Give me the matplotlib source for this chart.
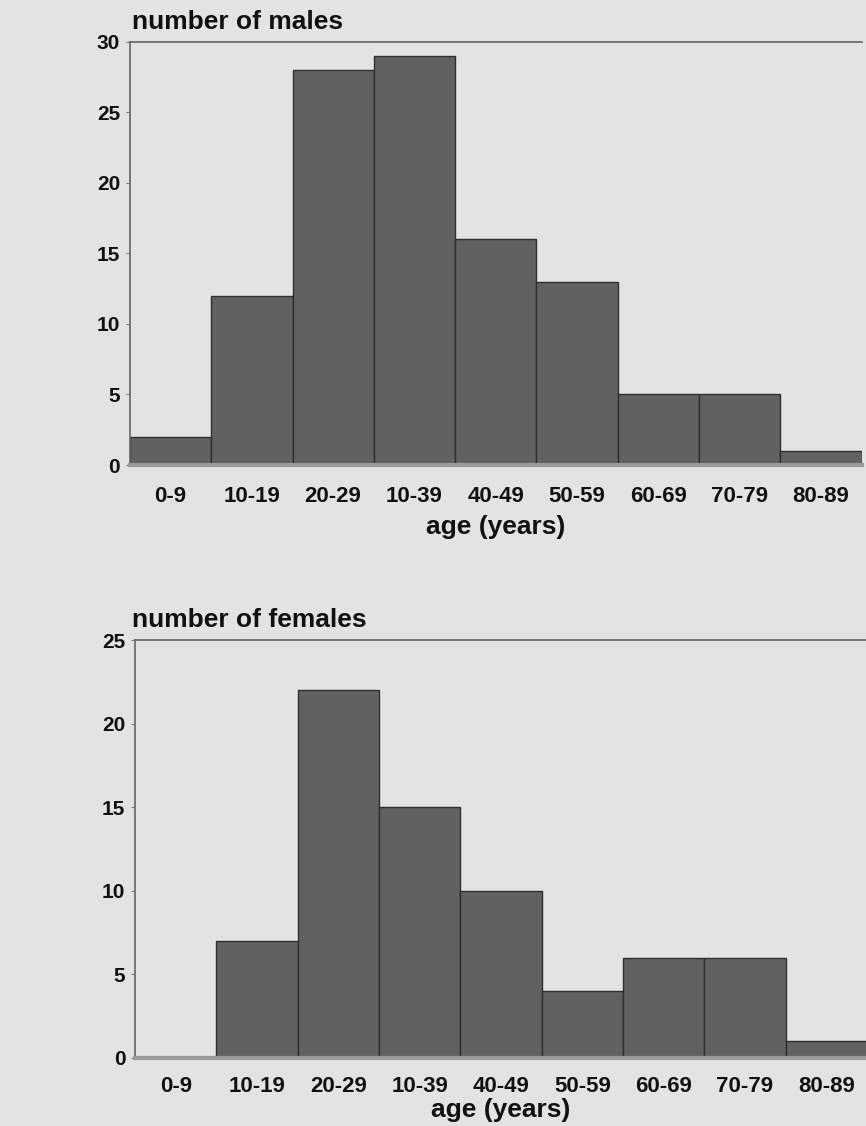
import matplotlib
matplotlib.use("Agg")
import matplotlib.pyplot as plt
import numpy as np

age_groups = ["0-9", "10-19", "20-29", "10-39", "40-49", "50-59", "60-69", "70-79", "80-89"]
males = [2, 12, 28, 29, 16, 13, 5, 5, 1]
females = [0, 7, 22, 15, 10, 4, 6, 6, 1]

plt.rcParams['font.family'] = ['Liberation Sans', 'DejaVu Sans']

bg = "#e3e3e1"
bar_color = "#616161"
edge_color = "#2e2e2e"
text_color = "#111111"

fig = plt.figure(figsize=(8.66, 11.26), dpi=100, facecolor=bg)


def panel(rect, values, ymax, title, title_x, xpad, lpad):
    ax = fig.add_axes(rect)
    ax.set_facecolor(bg)
    x = np.arange(len(values))
    ax.bar(x, values, width=1.0, align="edge", color=bar_color,
           edgecolor=edge_color, linewidth=1.0)
    ax.set_xlim(0, len(values))
    ax.set_ylim(0, ymax)
    ax.set_yticks(np.arange(0, ymax + 1, 5))
    ax.set_yticklabels([str(v) for v in np.arange(0, ymax + 1, 5)],
                       fontsize=15, fontweight="bold", color=text_color)
    ax.set_xticks(x + 0.5)
    ax.set_xticklabels(age_groups, fontsize=16, fontweight="bold", color=text_color)
    ax.tick_params(axis="x", length=0, pad=xpad)
    ax.tick_params(axis="y", length=3, width=0.8, color="#777777", pad=4)
    for s in ["top", "left"]:
        ax.spines[s].set_color("#666666")
        ax.spines[s].set_linewidth(1.2)
    ax.spines["right"].set_visible(False)
    ax.spines["bottom"].set_color("#9a9a9a")
    ax.spines["bottom"].set_linewidth(3.0)
    ax.set_xlabel("age (years)", fontsize=19, fontweight="bold",
                  color=text_color, labelpad=lpad)
    fig.text(title_x, rect[1] + rect[3] + 0.007, title, fontsize=19,
             fontweight="bold", color=text_color, ha="left", va="bottom")
    return ax


panel([0.150, 0.587, 0.845, 0.376], males, 30, "number of males", 0.152, 15, 6)
panel([0.156, 0.0604, 0.845, 0.3712], females, 25, "number of females", 0.152, 13, 1)

fig.savefig("out.png", dpi=100, facecolor=bg)
